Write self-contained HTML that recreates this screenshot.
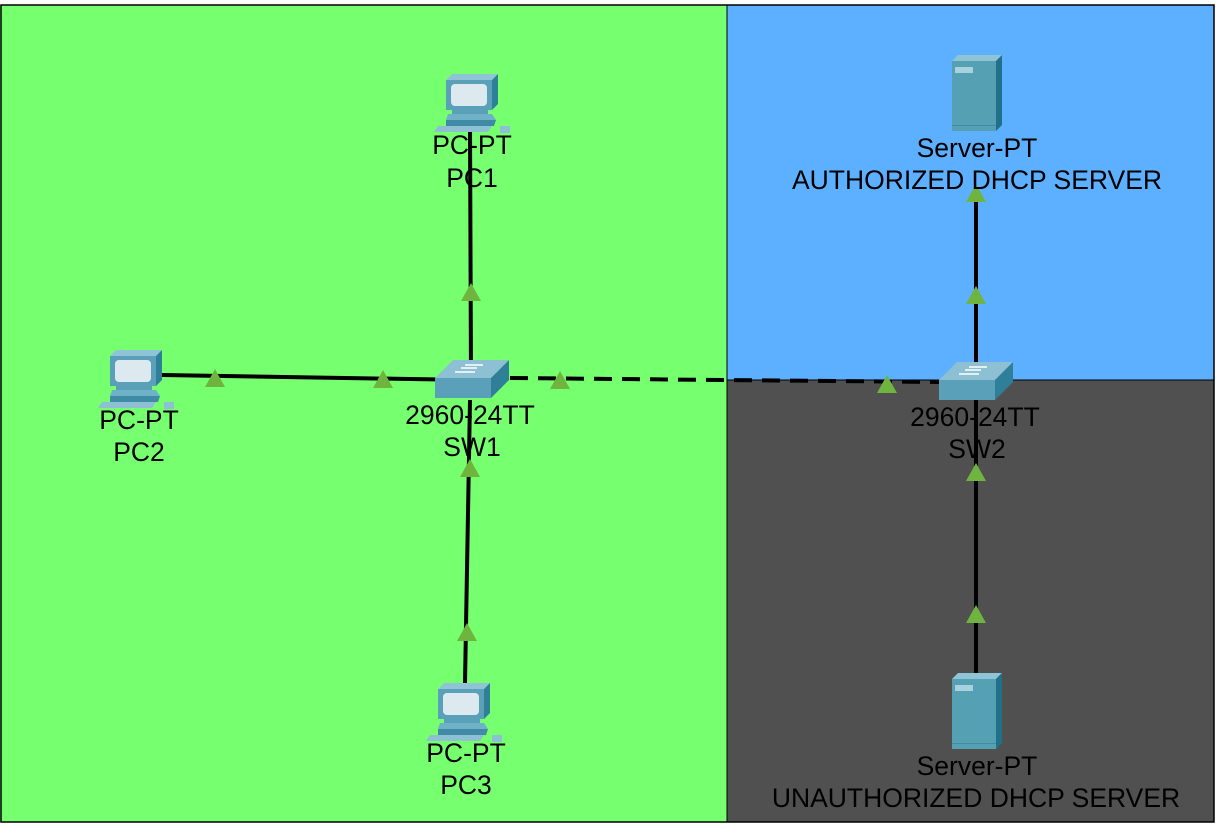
<!DOCTYPE html>
<html><head><meta charset="utf-8"><style>
html,body{margin:0;padding:0;background:#fff}
svg{display:block}
text{font-family:"Liberation Sans",Arial,sans-serif;font-size:26.5px;fill:#000;text-anchor:middle}
</style></head><body>
<svg width="1216" height="824" viewBox="0 0 1216 824">
<defs>
<g id="pc">
  <polygon points="6,0 52,0 46,6 0,6" fill="#8fc3d6"/>
  <rect x="0" y="6" width="46" height="30" fill="#5aa0b8"/>
  <polygon points="46,6 52,0 52,30 46,36" fill="#2f7f98"/>
  <rect x="5" y="10" width="36" height="22" rx="4" fill="#dceaf0"/>
  <rect x="6" y="36" width="36" height="4" fill="#5aa0b8"/>
  <polygon points="2,40 46,40 50,46 0,46" fill="#6fb2c8"/>
  <polygon points="0,46 50,46 48,52 0,52" fill="#3f8aa4"/>
  <polygon points="-8,52 46,52 42,58 -12,58" fill="#8cc0d2"/>
  <rect x="54" y="52" width="10" height="7" fill="#8cc0d2"/>
</g>
<g id="srv">
  <polygon points="0,6 6,0 50,0 44,6" fill="#8fc3d6"/>
  <rect x="0" y="6" width="44" height="70" fill="#55a0b3"/>
  <polygon points="44,6 50,0 50,70 44,76" fill="#1f7088"/>
  <rect x="3" y="12" width="18" height="6" fill="#a8d2de"/>
  <rect x="0" y="70" width="44" height="1" fill="#3f8aa4"/>
</g>
<g id="sw">
  <polygon points="0,18 18,0 74,0 56,18" fill="#8cc0d2"/>
  <rect x="0" y="18" width="56" height="20" fill="#5aa0b8"/>
  <polygon points="56,18 74,0 74,20 56,38" fill="#2f7f98"/>
  <path d="M30,5 h18 M20,12 h20 M26,8 h16" stroke="#fff" stroke-width="1.5"/>
</g>
<polygon id="tri" points="-10,9 10,9 0,-9" fill="#6fb43f"/>
</defs>
<rect x="0" y="5" width="727" height="817" fill="#76ff6f"/>
<rect x="727" y="5" width="487" height="375" fill="#5cb0ff"/>
<rect x="727" y="380" width="487" height="442" fill="#505050"/>
<rect x="1" y="5" width="1213" height="817" fill="none" stroke="#000" stroke-width="1.5"/>
<line x1="727" y1="5" x2="727" y2="822" stroke="#000" stroke-width="1"/>
<line x1="727" y1="380" x2="1214" y2="380" stroke="#000" stroke-width="1"/>
<g stroke="#000" stroke-width="4" fill="none">
  <line x1="470" y1="128" x2="471" y2="378"/>
  <line x1="162" y1="375" x2="470" y2="380"/>
  <line x1="470" y1="400" x2="465" y2="683"/>
  <line x1="976" y1="195" x2="976" y2="380"/>
  <line x1="976" y1="400" x2="976" y2="673"/>
  <line x1="510" y1="378" x2="940" y2="382" stroke-dasharray="18,10"/>
</g>
<use href="#pc" x="446" y="74"/>
<use href="#pc" x="110" y="350"/>
<use href="#pc" x="438" y="683"/>
<use href="#srv" x="952" y="55"/>
<use href="#srv" x="952" y="673"/>
<use href="#sw" x="435" y="360"/>
<use href="#sw" x="939" y="362"/>
<use href="#tri" x="471" y="292"/>
<use href="#tri" x="215" y="378"/>
<use href="#tri" x="383" y="379"/>
<use href="#tri" x="470" y="468"/>
<use href="#tri" x="467" y="632"/>
<use href="#tri" x="560" y="380"/>
<use href="#tri" x="887" y="384"/>
<use href="#tri" x="976" y="193"/>
<use href="#tri" x="976" y="295"/>
<use href="#tri" x="976" y="472"/>
<use href="#tri" x="976" y="614"/>
<text x="472" y="154">PC-PT</text>
<text x="472" y="187">PC1</text>
<text x="139" y="429">PC-PT</text>
<text x="139" y="461">PC2</text>
<text x="466" y="762">PC-PT</text>
<text x="466" y="794">PC3</text>
<text x="470" y="424">2960-24TT</text>
<text x="472" y="456">SW1</text>
<text x="975" y="426">2960-24TT</text>
<text x="977" y="458">SW2</text>
<text x="977" y="157">Server-PT</text>
<text x="977" y="189">AUTHORIZED DHCP SERVER</text>
<text x="977" y="775">Server-PT</text>
<text x="976" y="807">UNAUTHORIZED DHCP SERVER</text>
</svg>
</body></html>
